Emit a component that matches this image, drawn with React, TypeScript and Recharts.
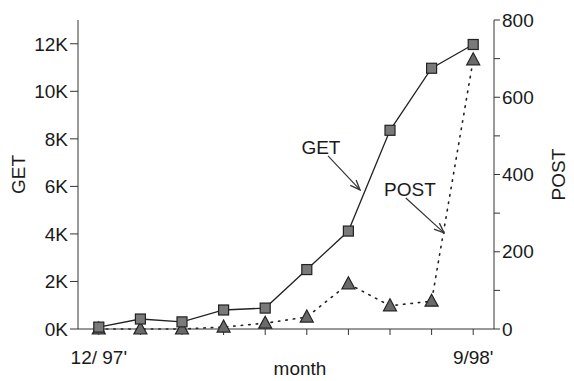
import { Label, Line, LineChart, ReferenceDot, ReferenceLine, XAxis, YAxis } from 'recharts';

const FONT = '"Liberation Sans", Arial, sans-serif';

// months 12/97 .. 9/98
const months = ['12/97', '1/98', '2/98', '3/98', '4/98', '5/98', '6/98', '7/98', '8/98', '9/98'];
const monthTickLabels = ["12/ 97'", '', '', '', '', '', '', '', '', "9/98'"];
const getRequests = [80, 420, 300, 800, 880, 2500, 4120, 8360, 10970, 11970];
const postRequests = [0, 0, 0, 5, 15, 31, 117, 60, 72, 697];

const getTicks = [0, 2000, 4000, 6000, 8000, 10000, 12000];
const postTicks = [0, 100, 200, 300, 400, 500, 600, 700, 800];

const data = months.map((m, i) => ({ idx: i, month: m, get: getRequests[i], post: postRequests[i] }));

const textColor = '#1a1a1a';
const tickStyle = { fontSize: 19, fill: textColor, fontFamily: FONT };
const labelStyle = { fontSize: 19, fill: textColor, fontFamily: FONT };

function SquareDot(props: any) {
    const { cx, cy, index } = props;
    if (cx == null || cy == null) return null;
    return <rect key={`sq-${index}`} x={cx - 5} y={cy - 5} width={10} height={10} fill="#7a7a7a" stroke="#222" strokeWidth={1.2} />;
}

function TriangleDot(props: any) {
    const { cx, cy, index } = props;
    if (cx == null || cy == null) return null;
    return (
        <path
            key={`tr-${index}`}
            d={`M${cx},${cy - 7} L${cx + 6.5},${cy + 5} L${cx - 6.5},${cy + 5} Z`}
            fill="#6a6a6a"
            stroke="#222"
            strokeWidth={1.2}
        />
    );
}

export default function App() {
    return (
        <div style={{ position: 'absolute', left: 0, top: 0, width: 574, height: 381, background: '#fff', fontFamily: FONT }}>
            <svg width={0} height={0} style={{ position: 'absolute' }}>
                <defs>
                    <marker id="arrowHead" viewBox="0 0 12 10" refX="11" refY="5" markerWidth="12" markerHeight="10" markerUnits="userSpaceOnUse" orient="auto">
                        <path d="M1,1 L11,5 L1,9" fill="none" stroke="#333" strokeWidth={1.3} />
                    </marker>
                </defs>
            </svg>
            <LineChart width={574} height={381} data={data} margin={{ top: 20, right: 0, bottom: 0, left: 0 }}>
                <XAxis
                    dataKey="idx"
                    type="number"
                    domain={[-0.5, 9.5]}
                    ticks={months.map((_, i) => i)}
                    tickFormatter={(v: number) => monthTickLabels[v] ?? ''}
                    height={52}
                    tick={tickStyle}
                    tickSize={6}
                    tickMargin={16}
                    stroke="#333"
                >
                    <Label value="month" position="insideBottom" offset={6} dx={14} fill={textColor} style={labelStyle} />
                </XAxis>
                <XAxis
                    xAxisId="top"
                    orientation="top"
                    dataKey="idx"
                    type="number"
                    domain={[-0.5, 9.5]}
                    ticks={[1, 3, 5, 7, 9]}
                    tickFormatter={() => ''}
                    height={0}
                    mirror
                    tickSize={5}
                    stroke="#333"
                />
                <YAxis
                    yAxisId="left"
                    domain={[0, 13000]}
                    ticks={getTicks}
                    tickFormatter={(v: number) => `${v / 1000}K`}
                    width={78}
                    tick={tickStyle}
                    tickSize={8}
                    tickMargin={2}
                    stroke="#333"
                >
                    <Label value="GET" angle={-90} position="insideLeft" offset={18} fill={textColor} style={{ ...labelStyle, textAnchor: 'middle' }} />
                </YAxis>
                <YAxis
                    yAxisId="right"
                    orientation="right"
                    domain={[0, 800]}
                    ticks={postTicks}
                    tickFormatter={(v: number) => (v % 200 === 0 ? String(v) : '')}
                    width={80}
                    tick={tickStyle}
                    tickSize={6}
                    tickMargin={2}
                    stroke="#333"
                >
                    <Label value="POST" angle={-90} position="insideRight" offset={16} fill={textColor} style={{ ...labelStyle, textAnchor: 'middle' }} />
                </YAxis>

                <Line
                    yAxisId="right"
                    dataKey="post"
                    type="linear"
                    stroke="#222"
                    strokeWidth={1.6}
                    strokeDasharray="1.5 6"
                    strokeLinecap="round"
                    dot={TriangleDot}
                    isAnimationActive={false}
                />
                <Line
                    yAxisId="left"
                    dataKey="get"
                    type="linear"
                    stroke="#222"
                    strokeWidth={1.3}
                    dot={SquareDot}
                    isAnimationActive={false}
                />

                <ReferenceLine
                    yAxisId="left"
                    segment={[{ x: 5.51, y: 7280 }, { x: 6.28, y: 5850 }]}
                    stroke="#333"
                    strokeWidth={1.2}
                    markerEnd="url(#arrowHead)"
                />
                <ReferenceDot
                    yAxisId="left"
                    x={5.34}
                    y={7660}
                    r={0}
                    stroke="none"
                    fill="none"
                    label={{ value: 'GET', position: 'center', fill: textColor, style: labelStyle }}
                />
                <ReferenceLine
                    yAxisId="right"
                    segment={[{ x: 7.38, y: 339 }, { x: 8.3, y: 249 }]}
                    stroke="#333"
                    strokeWidth={1.2}
                    markerEnd="url(#arrowHead)"
                />
                <ReferenceDot
                    yAxisId="right"
                    x={7.48}
                    y={362}
                    r={0}
                    stroke="none"
                    fill="none"
                    label={{ value: 'POST', position: 'center', fill: textColor, style: labelStyle }}
                />
            </LineChart>
        </div>
    );
}
